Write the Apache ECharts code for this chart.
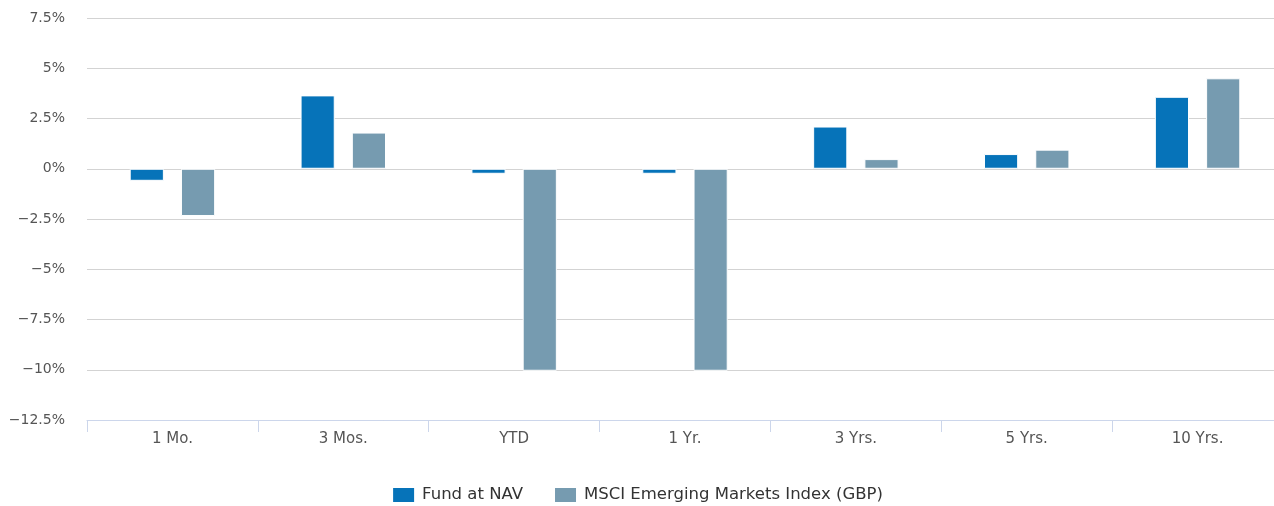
<!DOCTYPE html>
<html>
<head>
<meta charset="utf-8">
<script src="https://cdn.jsdelivr.net/npm/echarts@6/dist/echarts.min.js"></script>
<style>
  html, body { margin: 0; padding: 0; background: #fff; }
  #chart { width: 1274px; height: 506px; }
</style>
</head>
<body>
<div id="chart"></div>
<script>
// periods along the x axis
const categories = ['1 Mo.', '3 Mos.', 'YTD', '1 Yr.', '3 Yrs.', '5 Yrs.', '10 Yrs.'];
// returns in %
const fundValues = [-0.6, 3.65, -0.25, -0.25, 2.1, 0.73, 3.58];
const indexValues = [-2.35, 1.8, -10.05, -10.05, 0.48, 0.95, 4.5];
const seriesNames = ['Fund at NAV', 'MSCI Emerging Markets Index (GBP)'];
// y axis ticks
const yMin = -12.5;
const yMax = 7.5;
const yStep = 2.5;

const font = '"DejaVu Sans", Verdana, sans-serif';
const chart = echarts.init(document.getElementById('chart'), null, { renderer: 'canvas' });

// label like 7.5% / 0% / −2.5%
const pct = (v) => (v < 0 ? '\u2212' : '') + Math.abs(v) + '%';

const barStyle = (color) => ({
  color,
  borderColor: '#ffffff',
  borderWidth: 1,
});

chart.setOption({
  animation: false,
  color: ['#0673b9', '#769bb0'],
  grid: {
    left: 87,
    right: -9,
    top: 18,
    bottom: 86,
    outerBoundsMode: 'none',
  },
  legend: {
    top: 481,
    left: 'center',
    icon: 'rect',
    itemWidth: 23,
    itemHeight: 16,
    itemGap: 30,
    textStyle: {
      fontFamily: font,
      fontSize: 16.5,
      color: '#333333',
      padding: [0, 0, 0, 2],
    },
    data: seriesNames,
  },
  xAxis: {
    type: 'category',
    data: categories,
    axisLine: { onZero: false, lineStyle: { color: '#ccd6eb', width: 1 } },
    axisTick: { show: true, length: 12, lineStyle: { color: '#ccd6eb' } },
    axisLabel: {
      margin: 12,
      fontFamily: font,
      fontSize: 15,
      color: '#555555',
    },
  },
  yAxis: {
    type: 'value',
    min: yMin,
    max: yMax,
    interval: yStep,
    axisLine: { show: false },
    axisTick: { show: false },
    splitLine: { lineStyle: { color: '#d3d3d3', width: 1 } },
    axisLabel: {
      margin: 22,
      fontFamily: font,
      fontSize: 14,
      color: '#555555',
      formatter: pct,
    },
  },
  series: [
    {
      name: seriesNames[0],
      type: 'bar',
      data: fundValues,
      barGap: '50%',
      barCategoryGap: '50%',
      itemStyle: barStyle('#0673b9'),
    },
    {
      name: seriesNames[1],
      type: 'bar',
      data: indexValues,
      barGap: '50%',
      barCategoryGap: '50%',
      itemStyle: barStyle('#769bb0'),
    },
  ],
});
</script>
</body>
</html>
